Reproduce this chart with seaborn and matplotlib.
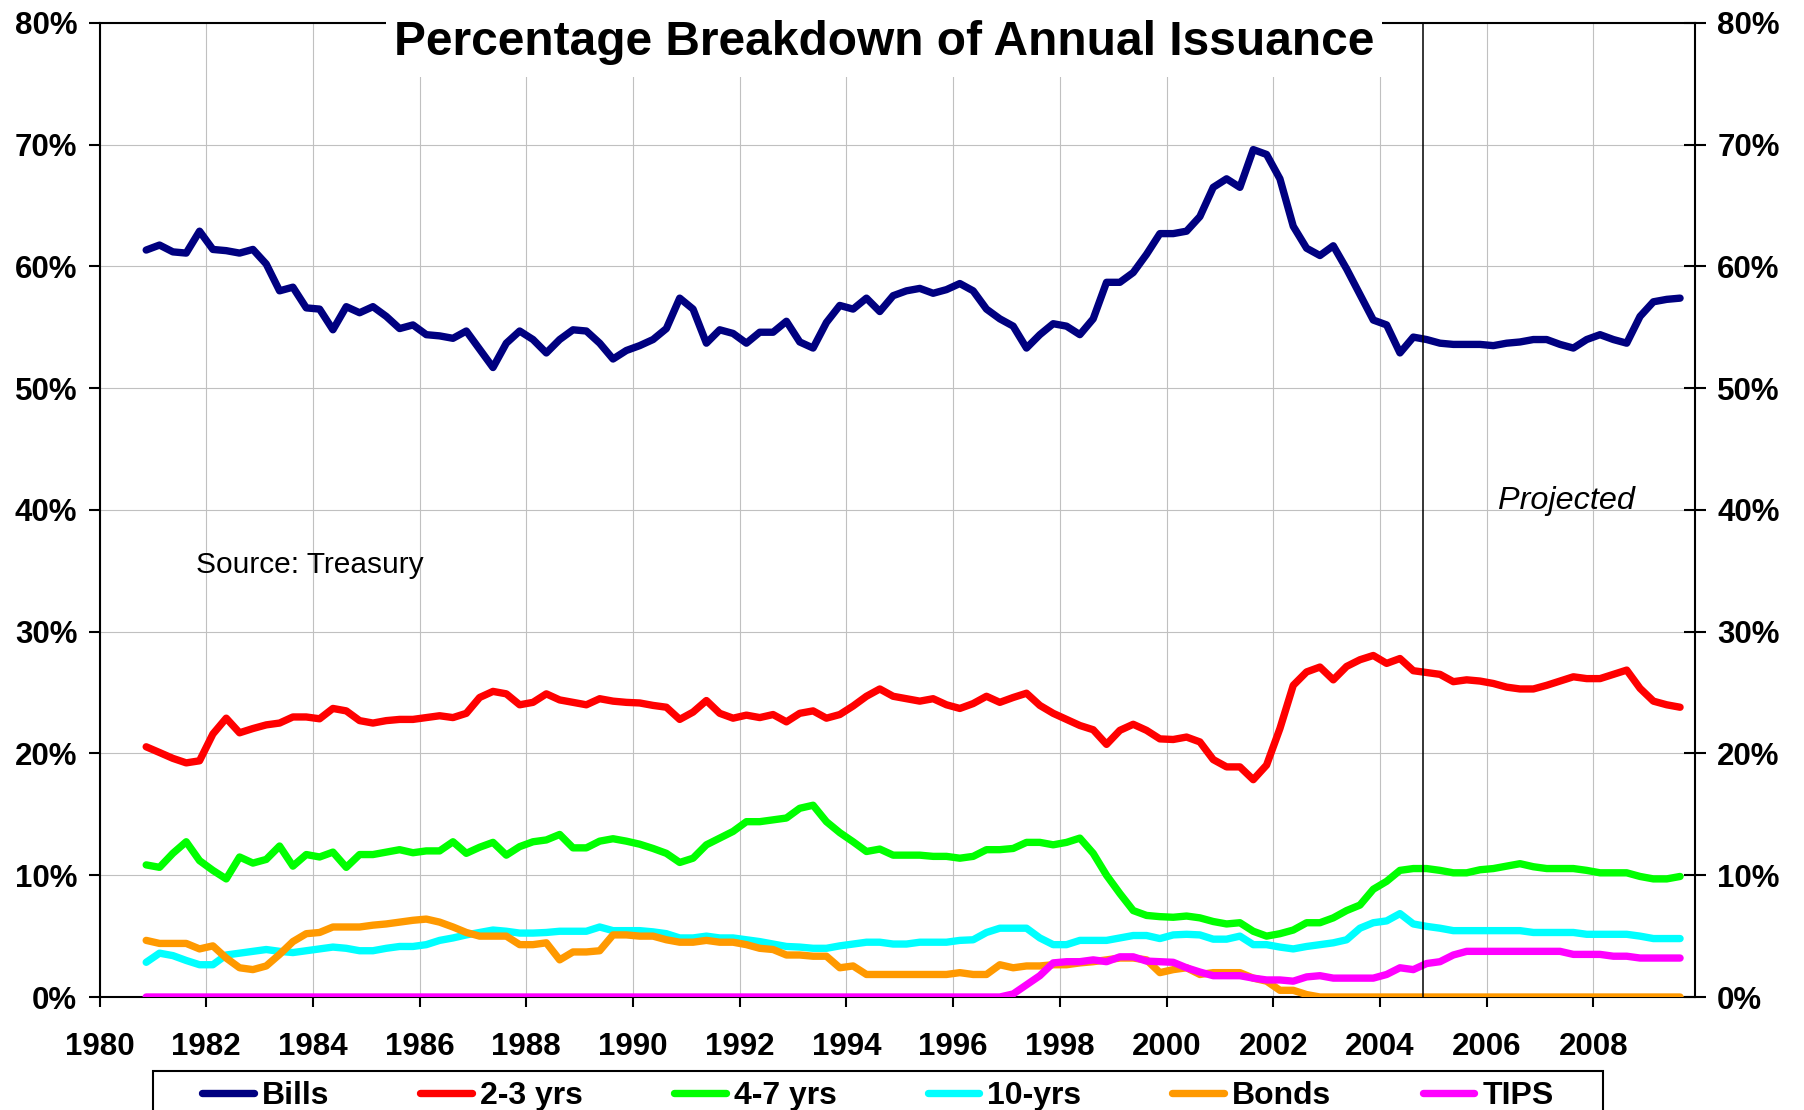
import numpy as np
import pandas as pd
import matplotlib
matplotlib.use("Agg")
import matplotlib.pyplot as plt
from matplotlib.patches import Rectangle
from matplotlib.lines import Line2D
from matplotlib.ticker import FuncFormatter
import seaborn as sns

# quarterly observations, first one at end of 1980
start_year = 1980.875

bills = [61.35, 61.76, 61.2, 61.1, 62.9, 61.4, 61.3, 61.1, 61.4, 60.2,
         58.0, 58.3, 56.6, 56.5, 54.8, 56.7, 56.2, 56.7, 55.9, 54.9,
         55.2, 54.4, 54.3, 54.1, 54.7, 53.2, 51.7, 53.7, 54.7, 54.0,
         52.9, 54.0, 54.8, 54.7, 53.7, 52.4, 53.1, 53.5, 54.0, 54.9,
         57.4, 56.5, 53.7, 54.8, 54.5, 53.7, 54.6, 54.6, 55.5, 53.8,
         53.3, 55.4, 56.8, 56.5, 57.4, 56.3, 57.6, 58.0, 58.2, 57.8,
         58.1, 58.6, 58.0, 56.5, 55.7, 55.1, 53.3, 54.4, 55.3, 55.1,
         54.4, 55.7, 58.7, 58.7, 59.5, 61.0, 62.7, 62.7, 62.9, 64.1,
         66.5, 67.2, 66.5, 69.6, 69.2, 67.2, 63.3, 61.5, 60.9, 61.7,
         59.8, 57.7, 55.6, 55.2, 52.9, 54.2, 54.0, 53.7, 53.6, 53.6,
         53.6, 53.5, 53.7, 53.8, 54.0, 54.0, 53.6, 53.3, 54.0, 54.4,
         54.0, 53.7, 55.9, 57.1, 57.3, 57.4]

two_three = [20.55, 20.08, 19.6, 19.23, 19.4, 21.6, 22.9, 21.7, 22.05, 22.35,
             22.5, 23.0, 23.0, 22.85, 23.7, 23.5, 22.7, 22.5, 22.7, 22.8,
             22.8, 22.95, 23.1, 22.95, 23.3, 24.6, 25.1, 24.9, 24.0, 24.2,
             24.9, 24.4, 24.2, 24.0, 24.5, 24.3, 24.2, 24.15, 23.95, 23.8,
             22.8, 23.4, 24.35, 23.3, 22.9, 23.15, 22.95, 23.2, 22.6, 23.3,
             23.5, 22.9, 23.2, 23.9, 24.7, 25.3, 24.7, 24.5, 24.3, 24.5,
             24.0, 23.7, 24.1, 24.7, 24.2, 24.6, 24.95, 23.95, 23.3, 22.8,
             22.3, 21.95, 20.75, 21.9, 22.4, 21.9, 21.2, 21.15, 21.35, 20.95,
             19.5, 18.9, 18.9, 17.85, 19.05, 22.05, 25.6, 26.7, 27.1, 26.05,
             27.15, 27.7, 28.05, 27.4, 27.8, 26.8, 26.65, 26.5, 25.9, 26.05,
             25.95, 25.75, 25.45, 25.3, 25.3, 25.6, 25.95, 26.3, 26.15, 26.15,
             26.5, 26.85, 25.35, 24.3, 24.0, 23.8]

four_seven = [10.85, 10.65, 11.8, 12.75, 11.2, 10.4, 9.7, 11.5, 11.0, 11.3,
              12.4, 10.75, 11.7, 11.5, 11.9, 10.65, 11.7, 11.7, 11.9, 12.1,
              11.85, 12.0, 12.0, 12.75, 11.8, 12.3, 12.7, 11.65, 12.35, 12.75,
              12.9, 13.35, 12.25, 12.25, 12.8, 13.0, 12.8, 12.55, 12.2, 11.8,
              11.05, 11.4, 12.5, 13.05, 13.6, 14.4, 14.4, 14.55, 14.7, 15.5,
              15.75, 14.4, 13.5, 12.75, 11.95, 12.15, 11.65, 11.65, 11.65, 11.55,
              11.55, 11.4, 11.55, 12.1, 12.1, 12.2, 12.7, 12.7, 12.5, 12.7,
              13.05, 11.8, 10.0, 8.5, 7.1, 6.7, 6.6, 6.55, 6.65, 6.5,
              6.2, 6.0, 6.1, 5.4, 5.0, 5.2, 5.5, 6.1, 6.1, 6.5,
              7.1, 7.55, 8.85, 9.5, 10.4, 10.55, 10.55, 10.4, 10.2, 10.2,
              10.45, 10.55, 10.75, 10.95, 10.7, 10.55, 10.55, 10.55, 10.4, 10.2,
              10.2, 10.2, 9.9, 9.7, 9.7, 9.9]

ten_year = [2.85, 3.6, 3.4, 3.0, 2.65, 2.65, 3.45, 3.6, 3.75, 3.9,
            3.75, 3.65, 3.8, 3.95, 4.1, 4.0, 3.8, 3.8, 4.0, 4.15,
            4.15, 4.3, 4.65, 4.85, 5.1, 5.3, 5.5, 5.4, 5.25, 5.25,
            5.3, 5.4, 5.4, 5.4, 5.75, 5.45, 5.45, 5.45, 5.35, 5.2,
            4.85, 4.85, 5.0, 4.85, 4.85, 4.7, 4.55, 4.35, 4.15, 4.1,
            4.0, 4.0, 4.2, 4.35, 4.5, 4.5, 4.35, 4.35, 4.5, 4.5,
            4.5, 4.65, 4.7, 5.3, 5.65, 5.65, 5.65, 4.85, 4.3, 4.3,
            4.65, 4.65, 4.65, 4.85, 5.05, 5.05, 4.8, 5.1, 5.15, 5.1,
            4.75, 4.75, 5.0, 4.3, 4.3, 4.1, 3.95, 4.15, 4.3, 4.45,
            4.7, 5.65, 6.1, 6.25, 6.85, 6.0, 5.8, 5.65, 5.45, 5.45,
            5.45, 5.45, 5.45, 5.45, 5.3, 5.3, 5.3, 5.3, 5.15, 5.15,
            5.15, 5.15, 5.0, 4.8, 4.8, 4.8]

bonds = [4.65, 4.4, 4.4, 4.4, 3.95, 4.2, 3.2, 2.4, 2.25, 2.55,
         3.5, 4.55, 5.2, 5.3, 5.75, 5.75, 5.75, 5.9, 6.0, 6.15,
         6.3, 6.4, 6.15, 5.75, 5.3, 5.0, 5.0, 5.0, 4.3, 4.3,
         4.45, 3.05, 3.7, 3.7, 3.8, 5.1, 5.1, 5.0, 5.0, 4.7,
         4.5, 4.5, 4.65, 4.5, 4.5, 4.3, 4.0, 3.9, 3.45, 3.45,
         3.35, 3.35, 2.4, 2.55, 1.85, 1.85, 1.85, 1.85, 1.85, 1.85,
         1.85, 2.0, 1.85, 1.85, 2.65, 2.4, 2.55, 2.55, 2.65, 2.65,
         2.8, 2.9, 3.05, 3.2, 3.2, 3.05, 2.0, 2.25, 2.4, 1.85,
         2.0, 2.0, 2.0, 1.55, 1.3, 0.55, 0.55, 0.2, 0.0, 0.0,
         0.0, 0.0, 0.0, 0.0, 0.0, 0.0, 0.0, 0.0, 0.0, 0.0,
         0.0, 0.0, 0.0, 0.0, 0.0, 0.0, 0.0, 0.0, 0.0, 0.0,
         0.0, 0.0, 0.0, 0.0, 0.0, 0.0]

tips = [0.0] * 65 + [
        0.25, 1.0, 1.75, 2.8, 2.9, 2.9, 3.05, 2.9, 3.3, 3.3,
        2.95, 2.9, 2.85, 2.4, 2.05, 1.75, 1.75, 1.75, 1.55, 1.4,
        1.4, 1.3, 1.65, 1.75, 1.55, 1.55, 1.55, 1.55, 1.85, 2.4,
        2.25, 2.75, 2.9, 3.45, 3.75, 3.75, 3.75, 3.75, 3.75, 3.75,
        3.75, 3.75, 3.5, 3.5, 3.5, 3.35, 3.35, 3.2, 3.2, 3.2, 3.2]

series_names = ["Bills", "2-3 yrs", "4-7 yrs", "10-yrs", "Bonds", "TIPS"]
series_colors = ["#000080", "#FF0000", "#00FF00", "#00FFFF", "#FF9900", "#FF00FF"]
year_ticks = list(range(1980, 2010, 2))
pct_ticks = list(range(0, 81, 10))
projection_start = 2004.8

years = start_year + 0.25 * np.arange(len(bills))
df = pd.DataFrame({"Year": years, "Bills": bills, "2-3 yrs": two_three,
                   "4-7 yrs": four_seven, "10-yrs": ten_year,
                   "Bonds": bonds, "TIPS": tips})
long_df = df.melt(id_vars="Year", var_name="Series", value_name="Pct")

sns.set_style("white")
plt.rcParams["font.family"] = ["Liberation Sans", "DejaVu Sans"]
plt.rcParams["font.weight"] = "bold"
plt.rcParams["text.color"] = "black"

fig = plt.figure(figsize=(18.04, 11.10), dpi=100)
ax = fig.add_axes([0.05516, 0.1018, 0.88442, 0.8775])

sns.lineplot(data=long_df, x="Year", y="Pct", hue="Series",
             hue_order=series_names, palette=dict(zip(series_names, series_colors)),
             linewidth=5.3, legend=False, errorbar=None, ax=ax,
             solid_capstyle="round", solid_joinstyle="round", zorder=3)

ax.axvline(projection_start, color="black", lw=1.1, zorder=4)

pct_fmt = FuncFormatter(lambda v, p: f"{int(v)}%")
ax.set_xlim(1980, 2009.905)
ax.set_ylim(0, 80)
ax.set_xticks(year_ticks)
ax.set_yticks(pct_ticks)
ax.yaxis.set_major_formatter(pct_fmt)
ax.set_xlabel("")
ax.set_ylabel("")
ax.grid(True, color="#C0C0C0", lw=0.8)
ax.set_axisbelow(True)
for s in ax.spines.values():
    s.set_visible(True)
    s.set_color("black")
    s.set_linewidth(1.5)
ax.tick_params(axis="y", left=True, direction="out", length=8, width=1.5,
               labelsize=22.5, pad=8, colors="black")
ax.tick_params(axis="x", bottom=True, direction="out", length=7.5, width=1.5,
               labelsize=22.5, pad=18, colors="black")

# right hand copy of the percent axis
ax2 = ax.twinx()
ax2.set_ylim(0, 80)
ax2.set_yticks(pct_ticks)
ax2.yaxis.set_major_formatter(pct_fmt)
ax2.grid(False)
for s in ax2.spines.values():
    s.set_visible(False)
ax2.tick_params(axis="y", right=True, direction="inout", length=16, width=1.5,
                labelsize=22.5, pad=8, colors="black")

ax.text(1981.8, 35.5, "Source: Treasury", fontsize=21.5, fontweight="normal",
        va="center", ha="left")
ax.text(2006.22, 40.7, "Projected", fontsize=23.3, fontweight="normal",
        fontstyle="italic", va="center", ha="left")

# title sits in a white box that cuts the top border
fig.patches.append(Rectangle((386 / 1804, 1 - 77 / 1110), (1382 - 386) / 1804, 77 / 1110,
                             transform=fig.transFigure, facecolor="white",
                             edgecolor="none", zorder=5))
fig.text(884 / 1804, 1 - 55 / 1110, "Percentage Breakdown of Annual Issuance",
         ha="center", va="baseline", fontsize=34.5, fontweight="bold", zorder=6)

handles = [Line2D([], [], color=c, lw=5.3, solid_capstyle="round") for c in series_colors]
fig.legend(handles, series_names, loc="center left",
           bbox_to_anchor=(202 / 1804, 1 - 1096 / 1110), ncol=6, frameon=False,
           fontsize=23, handlelength=1.62, handletextpad=0.25, columnspacing=2.85,
           borderpad=0, borderaxespad=0)
fig.patches.append(Rectangle((152.6 / 1804, -0.05), (1603 - 152.6) / 1804, 0.05 + 39 / 1110,
                             transform=fig.transFigure, fill=False,
                             edgecolor="black", lw=1.5, zorder=5))

fig.savefig("out.png", dpi=100)
